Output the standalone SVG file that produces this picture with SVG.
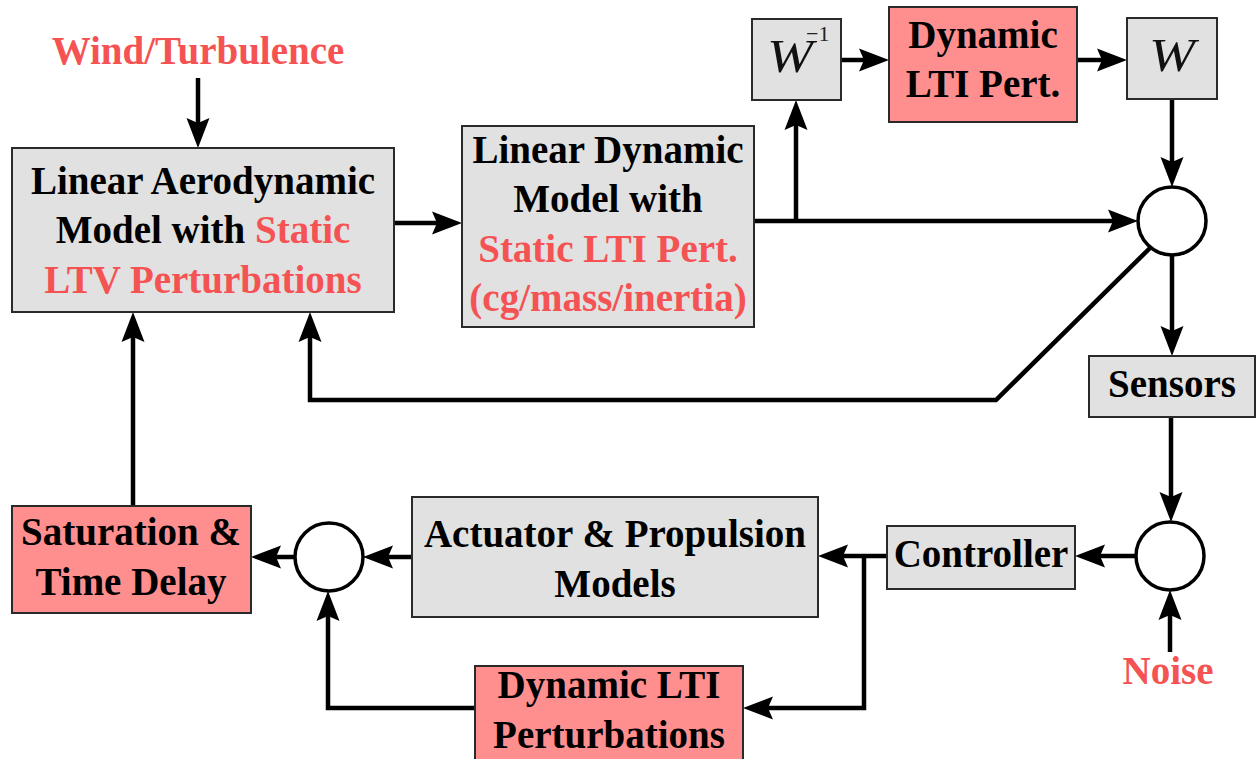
<svg xmlns="http://www.w3.org/2000/svg" width="1257" height="759" viewBox="0 0 1257 759">
<style>
.box{fill:#e1e1e1;stroke:#2a2a2a;stroke-width:2}
.rbox{fill:#ff8f8f;stroke:#2a2a2a;stroke-width:2}
.sum{fill:#fff;stroke:#000;stroke-width:3.5}
.t{font-family:"Liberation Serif","Times New Roman",serif;font-weight:bold;font-size:39px;fill:#000;text-anchor:middle}
.r{fill:#f55353}
.w{font-family:"Liberation Serif","Times New Roman",serif;font-style:italic;font-size:46px;fill:#111}
.sup{font-family:"Liberation Serif","Times New Roman",serif;font-size:22px;fill:#222}
.c{fill:none;stroke:#000;stroke-width:4.5;stroke-linejoin:miter}
.ca{fill:none;stroke:#000;stroke-width:4.5;stroke-linejoin:miter;marker-end:url(#ah)}
</style>
<defs>
<marker id="ah" markerUnits="userSpaceOnUse" viewBox="-7 -12 32 24" refX="0" refY="0" markerWidth="32" markerHeight="24" orient="auto">
<path d="M24,0 L-6,-11.5 L-1,0 L-6,11.5 Z" fill="#000"/>
</marker>
</defs>

<g id="connectors">
<path class="ca" d="M198,78 V124"/>
<path class="ca" d="M394,223 H438"/>
<path class="ca" d="M754,221 H1114"/>
<path class="ca" d="M796,221 V124"/>
<path class="ca" d="M841,60 H865"/>
<path class="ca" d="M1077,60 H1103"/>
<path class="ca" d="M1172,99 V163"/>
<path class="ca" d="M1172,255 V332"/>
<path class="ca" d="M1171,417 V498"/>
<path class="ca" d="M1170,652 V614"/>
<path class="ca" d="M1137,556 H1099"/>
<path class="ca" d="M887,556 H842"/>
<path class="ca" d="M864,556 V708 H767"/>
<path class="ca" d="M412,557 H387"/>
<path class="ca" d="M295,557 H275"/>
<path class="ca" d="M133,506 V336"/>
<path class="ca" d="M475,708 H328 V615"/>
<path class="ca" d="M1150,248 L996,400 H310 V336"/>
</g>

<g id="wind"><text class="t r" x="198" y="64">Wind/Turbulence</text></g>

<g id="aero">
<rect class="box" x="12" y="148" width="382" height="164"/>
<text class="t" x="203" y="194">Linear Aerodynamic</text>
<text class="t" x="203" y="243">Model with <tspan class="r">Static</tspan></text>
<text class="t r" x="203" y="293">LTV Perturbations</text>
</g>

<g id="dynmodel">
<rect class="box" x="462" y="126" width="292" height="201"/>
<text class="t" x="608" y="163">Linear Dynamic</text>
<text class="t" x="608" y="212">Model with</text>
<text class="t r" x="608" y="262">Static LTI Pert.</text>
<text class="t r" x="608" y="311">(cg/mass/inertia)</text>
</g>

<g id="winv">
<rect class="box" x="752" y="19" width="89" height="81"/>
<text class="w" x="767" y="72" textLength="46" lengthAdjust="spacingAndGlyphs">W</text>
<text class="sup" x="806" y="41">−1</text>
</g>

<g id="dynlti">
<rect class="rbox" x="889" y="7" width="188" height="115"/>
<text class="t" x="983" y="48">Dynamic</text>
<text class="t" x="983" y="97">LTI Pert.</text>
</g>

<g id="w">
<rect class="box" x="1127" y="18" width="90" height="81"/>
<text class="w" x="1149" y="71" textLength="46" lengthAdjust="spacingAndGlyphs">W</text>
</g>

<g id="sum1"><circle class="sum" cx="1172" cy="221" r="34"/></g>

<g id="sensors">
<rect class="box" x="1089" y="356" width="166" height="61"/>
<text class="t" x="1172" y="397">Sensors</text>
</g>

<g id="sum2"><circle class="sum" cx="1170" cy="556" r="34"/></g>

<g id="noise"><text class="t r" x="1168" y="684">Noise</text></g>

<g id="controller">
<rect class="box" x="887" y="526" width="188" height="63"/>
<text class="t" x="981" y="567">Controller</text>
</g>

<g id="actuator">
<rect class="box" x="412" y="497" width="406" height="120"/>
<text class="t" x="615" y="547">Actuator &amp; Propulsion</text>
<text class="t" x="615" y="597">Models</text>
</g>

<g id="sum3"><circle class="sum" cx="329" cy="557" r="34"/></g>

<g id="saturation">
<rect class="rbox" x="12" y="506" width="239" height="107"/>
<text class="t" x="131" y="545">Saturation &amp;</text>
<text class="t" x="131" y="595">Time Delay</text>
</g>

<g id="dynltipert">
<rect class="rbox" x="475" y="666" width="268" height="100"/>
<text class="t" x="609" y="698">Dynamic LTI</text>
<text class="t" x="609" y="748">Perturbations</text>
</g>
</svg>
